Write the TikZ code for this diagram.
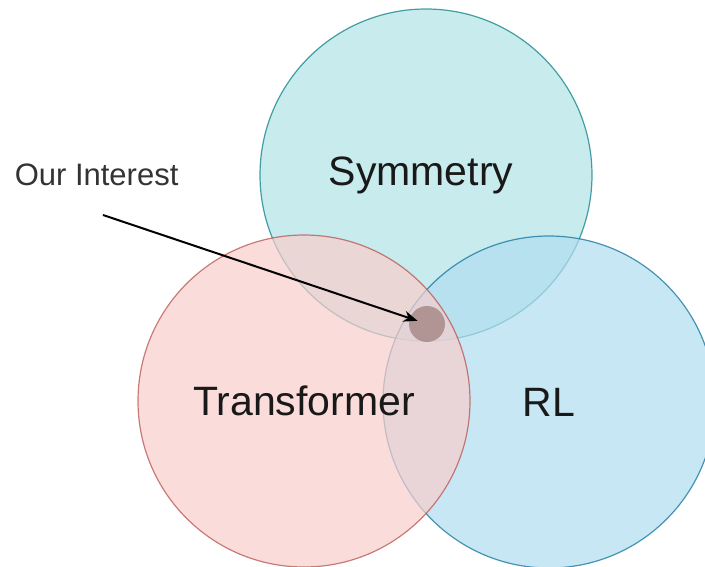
\documentclass[tikz,border=0pt]{standalone}
\usepackage{fontspec}
\setmainfont{Liberation Sans}
\usetikzlibrary{arrows.meta}

\definecolor{symfill}{HTML}{B0E3E6}
\definecolor{symline}{HTML}{0E8088}
\definecolor{trfill}{HTML}{F8CECC}
\definecolor{trline}{HTML}{B85450}
\definecolor{rlfill}{HTML}{B1DDF0}
\definecolor{rlline}{HTML}{10739E}
\definecolor{dotfill}{HTML}{A58585}

\begin{document}
\begin{tikzpicture}[x=1pt,y=-1pt,
        vennset/.style={circle,draw,line width=1.2pt,minimum size=332pt,inner sep=0pt,
            fill opacity=.7,draw opacity=.75,text opacity=1,text=black!90,
            font=\fontsize{41}{41}\selectfont},
        every path/.append style={line width=1.5pt}
    ]
        \useasboundingbox (0,0) rectangle (705,567);

        \node[vennset,fill=symfill,draw=symline] (sym) at (426,175) {Symmetry\kern10pt};
        \node[vennset,fill=rlfill,draw=rlline] (rl) at (549,402) {RL};
        \node[vennset,fill=trfill,draw=trline] (tr) at (304,401) {Transformer};

        \node[circle,fill=dotfill,fill opacity=.8,minimum size=36pt,inner sep=0pt] (dot) at (427,324) {};

        \node[anchor=west,inner sep=0pt,text=black!80,font=\fontsize{31}{31}\selectfont] (note) at (14,175) {Our Interest};
        \coordinate (ptr) at (103,215);

        \draw[line width=2pt,-{Stealth[length=14pt,width=11pt]},shorten >=10pt] (ptr) -- (dot.center);
    \end{tikzpicture}
\end{document}
